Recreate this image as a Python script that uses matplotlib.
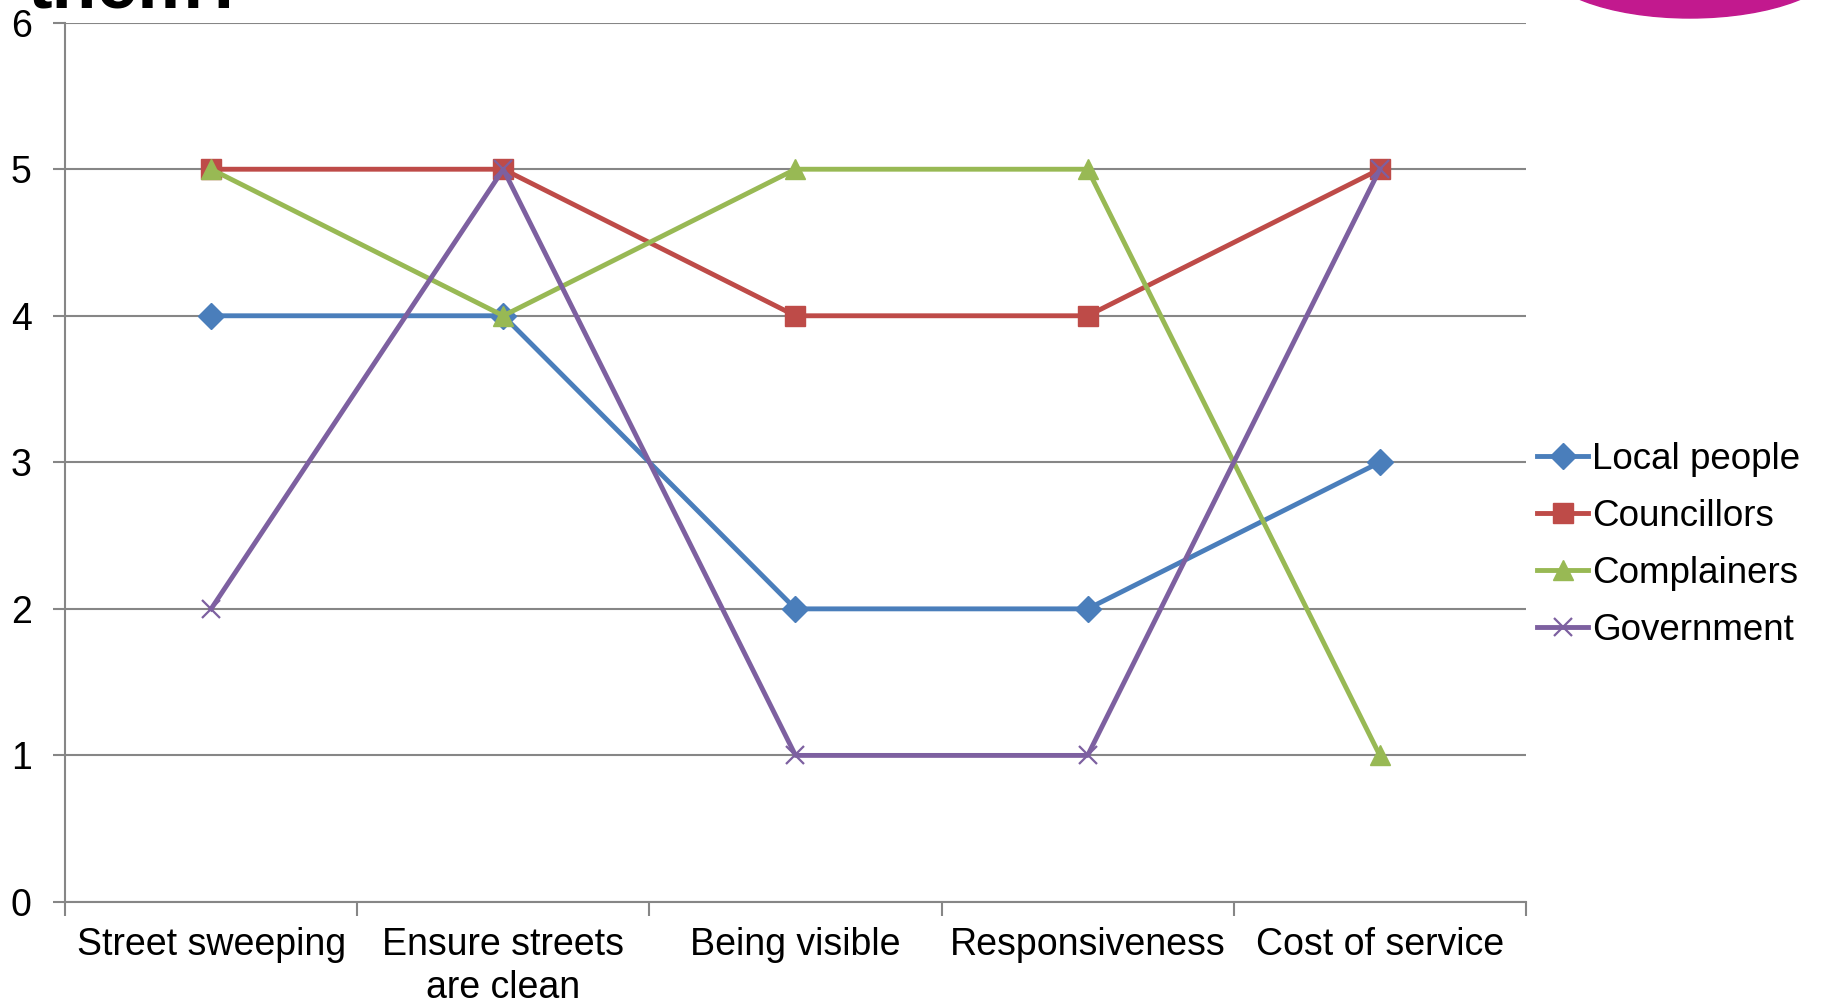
import matplotlib
matplotlib.use("Agg")
from matplotlib import pyplot as plt
from matplotlib.patches import Ellipse

plt.rcParams['font.family'] = ['Liberation Sans', 'DejaVu Sans']

# ratings per service area
categories = ["Street sweeping", "Ensure streets\nare clean", "Being visible",
              "Responsiveness", "Cost of service"]
local_people = [4, 4, 2, 2, 3]
councillors = [5, 5, 4, 4, 5]
complainers = [5, 4, 5, 5, 1]
government = [2, 5, 1, 1, 5]

series = [
    ("Local people", local_people, "#4A7EBB", "D", 13, {}),
    ("Councillors", councillors, "#BE4B48", "s", 14, {}),
    ("Complainers", complainers, "#98B954", "^", 15, {}),
    ("Government", government, "#7D60A0", "x", 13, {"markeredgewidth": 1.6}),
]

fig = plt.figure(figsize=(18.22, 10.08), dpi=100)
ax = fig.add_axes([0.0357, 0.1052, 0.8018, 0.8723])

x = list(range(len(categories)))
for name, vals, color, marker, ms, extra in series:
    ax.plot(x, vals, color=color, lw=3.5, marker=marker, markersize=ms,
            markerfacecolor=color, markeredgecolor=color, label=name,
            solid_joinstyle="round", **extra)

ax.set_xlim(-0.5, len(categories) - 0.5)
ax.set_ylim(0, 6)
ax.set_yticks(range(0, 7))
ax.yaxis.grid(True, color="#868686", lw=1.5)
ax.set_axisbelow(True)

# boundaries between categories get tick marks, names sit in the middle
ax.set_xticks([i - 0.5 for i in range(len(categories) + 1)])
ax.set_xticklabels([])
ax.set_xticks(x, minor=True)
ax.set_xticklabels(categories, minor=True, fontsize=27, linespacing=1.25)
ax.tick_params(axis="x", which="minor", length=0, pad=18)
ax.tick_params(axis="x", which="major", length=10, width=1.5, color="#868686")
ax.tick_params(axis="y", length=9, width=1.5, color="#868686", labelsize=27, pad=15)

for side in ["top", "right"]:
    ax.spines[side].set_visible(False)
for side in ["left", "bottom"]:
    ax.spines[side].set_color("#868686")
    ax.spines[side].set_linewidth(1.5)

fig.legend(loc="center left", bbox_to_anchor=(0.8435, 0.4595), frameon=False,
           fontsize=26.5, handlelength=1.4, handletextpad=0.1, labelspacing=0.6,
           borderpad=0, borderaxespad=0)

# slide title and logo, cut off at the top edge
fig.text(0.015, 0.993, "them?", fontsize=53, fontweight="bold", va="baseline")
fig.patches.append(Ellipse((1690 / 1822, 1 + 40 / 1008), 300 / 1822, 116 / 1008,
                           transform=fig.transFigure, color="#C2198E", zorder=0))

fig.savefig("out.png", dpi=100)
